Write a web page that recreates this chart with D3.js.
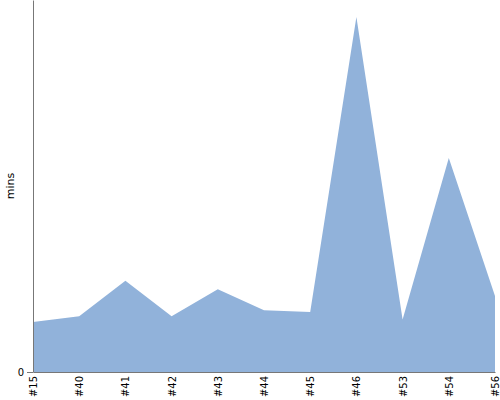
<!DOCTYPE html>
<html>
<head>
<meta charset="utf-8">
<script src="https://cdn.jsdelivr.net/npm/d3@7"></script>
<style>
  body { margin: 0; background: #fff; }
  .axis path, .axis line { stroke: #777; }
  .axis text { font-family: "DejaVu Sans", sans-serif; font-size: 10px; fill: #000; }
  .area { fill: #91b2da; }
</style>
</head>
<body>
<div id="chart"></div>
<script>
var categories = ["#15", "#40", "#41", "#42", "#43", "#44", "#45", "#46", "#53", "#54", "#56"];
var mins = [5.9, 6.6, 10.8, 6.6, 9.8, 7.3, 7.1, 42, 6.2, 25.3, 9.0];
var yTicks = [0];
var yMax = 44;

var margin = {top: 0, right: 5, bottom: 28, left: 33},
    width = 500,
    height = 400,
    chartWidth = width - margin.left - margin.right,
    chartHeight = height - margin.top - margin.bottom;

var data = categories.map(function(c, i) { return {label: c, value: mins[i]}; });

var svg = d3.select("#chart").append("svg")
    .attr("width", width)
    .attr("height", height);

var g = svg.append("g")
    .attr("transform", "translate(" + margin.left + "," + margin.top + ")");

var x = d3.scalePoint().domain(categories).range([0, chartWidth]);
var y = d3.scaleLinear().domain([0, yMax]).range([chartHeight, 0]);

var area = d3.area()
    .x(function(d) { return x(d.label); })
    .y0(chartHeight)
    .y1(function(d) { return y(d.value); });

g.append("path")
    .datum(data)
    .attr("class", "area")
    .attr("d", area);

g.append("g")
    .attr("class", "x axis")
    .attr("transform", "translate(0," + chartHeight + ")")
    .call(d3.axisBottom(x).tickSize(0).tickSizeOuter(0))
    .selectAll("text")
    .attr("transform", "rotate(-90)")
    .attr("text-anchor", "end")
    .attr("x", -4)
    .attr("y", 0)
    .attr("dy", "0.35em");

g.append("g")
    .attr("class", "y axis")
    .call(d3.axisLeft(y).tickValues(yTicks).tickSizeOuter(0));

svg.append("text")
    .attr("transform", "translate(14," + (margin.top + chartHeight / 2) + ") rotate(-90)")
    .attr("text-anchor", "middle")
    .style("font-family", "DejaVu Sans, sans-serif")
    .style("font-size", "11px")
    .text("mins");
</script>
</body>
</html>
